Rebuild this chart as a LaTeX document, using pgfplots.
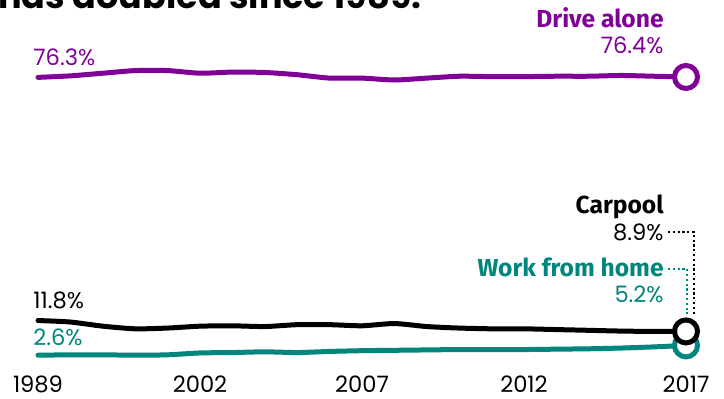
\documentclass[border=0pt]{standalone}
\usepackage{pgfplots}
\pgfplotsset{compat=1.18}
\usepackage{fontspec}
\setmainfont{Poppins}
\newfontfamily\labfont{Fira Sans}
\definecolor{drive}{RGB}{128,0,152}
\definecolor{wfh}{RGB}{0,134,124}
\begin{document}
\begin{tikzpicture}[x=0.5pt,y=0.5pt]
\useasboundingbox (0,0) rectangle (724,398);
\node[anchor=base west, inner sep=0, font=\fontsize{17.5}{20}\selectfont\bfseries] at (-2,390) {has doubled since 1989.};
\begin{axis}[at={(19pt,16.5pt)}, anchor=south west, scale only axis,
  width=324pt, height=150.8pt, xmin=0, xmax=20, ymin=0, ymax=80,
  axis line style={draw=none}, ytick=\empty,
  xtick={0,5,10,15,20}, xticklabels={1989,2002,2007,2012,2017},
  major tick length=0pt,
  xticklabel style={anchor=base, yshift=-13.6pt, font=\fontsize{11.3}{13}\selectfont},
  /pgf/number format/assume math mode=true, clip=false]
\addplot[wfh, line width=2.5pt, line cap=round, smooth, tension=0.4, mark=none] coordinates {
(0,2.6)(1,2.7)(2,2.7)(3,2.6)(4,2.7)(5,3.2)(6,3.3)(7,3.5)(8,3.3)(9,3.6)(10,3.8)
(11,3.9)(12,4.0)(13,4.1)(14,4.1)(15,4.1)(16,4.2)(17,4.3)(18,4.5)(19,4.8)(20,5.2)};
\addplot[wfh, line width=2.5pt, only marks, mark=*, mark size=5.75pt, mark options={fill=white}] coordinates {(20,5.2)};
\addplot[black, line width=2.5pt, line cap=round, smooth, tension=0.4, mark=none] coordinates {
(0,11.8)(1,11.4)(2,10.3)(3,9.6)(4,9.8)(5,10.3)(6,10.4)(7,10.2)(8,10.7)(9,10.7)(10,10.4)
(11,11.0)(12,10.2)(13,9.8)(14,9.6)(15,9.6)(16,9.4)(17,9.2)(18,9.0)(19,8.9)(20,8.9)};
\addplot[black, line width=2.5pt, only marks, mark=*, mark size=5.75pt, mark options={fill=white}] coordinates {(20,8.9)};
\addplot[drive, line width=2.5pt, line cap=round, smooth, tension=0.4, mark=none] coordinates {
(0,76.3)(1,76.7)(2,77.4)(3,78.1)(4,78.1)(5,77.4)(6,77.7)(7,77.6)(8,77.0)(9,76.1)(10,76.1)
(11,75.6)(12,76.1)(13,76.6)(14,76.5)(15,76.5)(16,76.6)(17,76.6)(18,76.8)(19,76.6)(20,76.4)};
\addplot[drive, line width=2.5pt, only marks, mark=*, mark size=5.75pt, mark options={fill=white}] coordinates {(20,76.4)};
\end{axis}
% annotations
\draw[black, line width=1.1pt, dash pattern=on 1.1pt off 1.3pt] (668,166) -- (694,166) -- (694,82);
\draw[wfh, line width=1.1pt, dash pattern=on 1.1pt off 1.3pt] (668,129) -- (687,129) -- (687,84);
\begin{scope}[every node/.style={inner sep=0}]
\node[anchor=base east, drive, font=\labfont\fontsize{12.3}{14}\selectfont\bfseries] at (664,371) {Drive alone};
\node[anchor=base east, drive, font=\fontsize{11.3}{13}\selectfont] at (664,345) {76.4\%};
\node[anchor=base west, drive, font=\fontsize{11.3}{13}\selectfont] at (33,333) {76.3\%};
\node[anchor=base west, black, font=\fontsize{11.3}{13}\selectfont] at (33,90) {11.8\%};
\node[anchor=base west, wfh, font=\fontsize{11.3}{13}\selectfont] at (33,53) {2.6\%};
\node[anchor=base east, black, font=\labfont\fontsize{12.3}{14}\selectfont\bfseries] at (664,185) {Carpool};
\node[anchor=base east, black, font=\fontsize{11.3}{13}\selectfont] at (664,158) {8.9\%};
\node[anchor=base east, wfh, font=\labfont\fontsize{12.3}{14}\selectfont\bfseries] at (664,122) {Work from home};
\node[anchor=base east, wfh, font=\fontsize{11.3}{13}\selectfont] at (664,96) {5.2\%};
\end{scope}
\end{tikzpicture}
\end{document}
